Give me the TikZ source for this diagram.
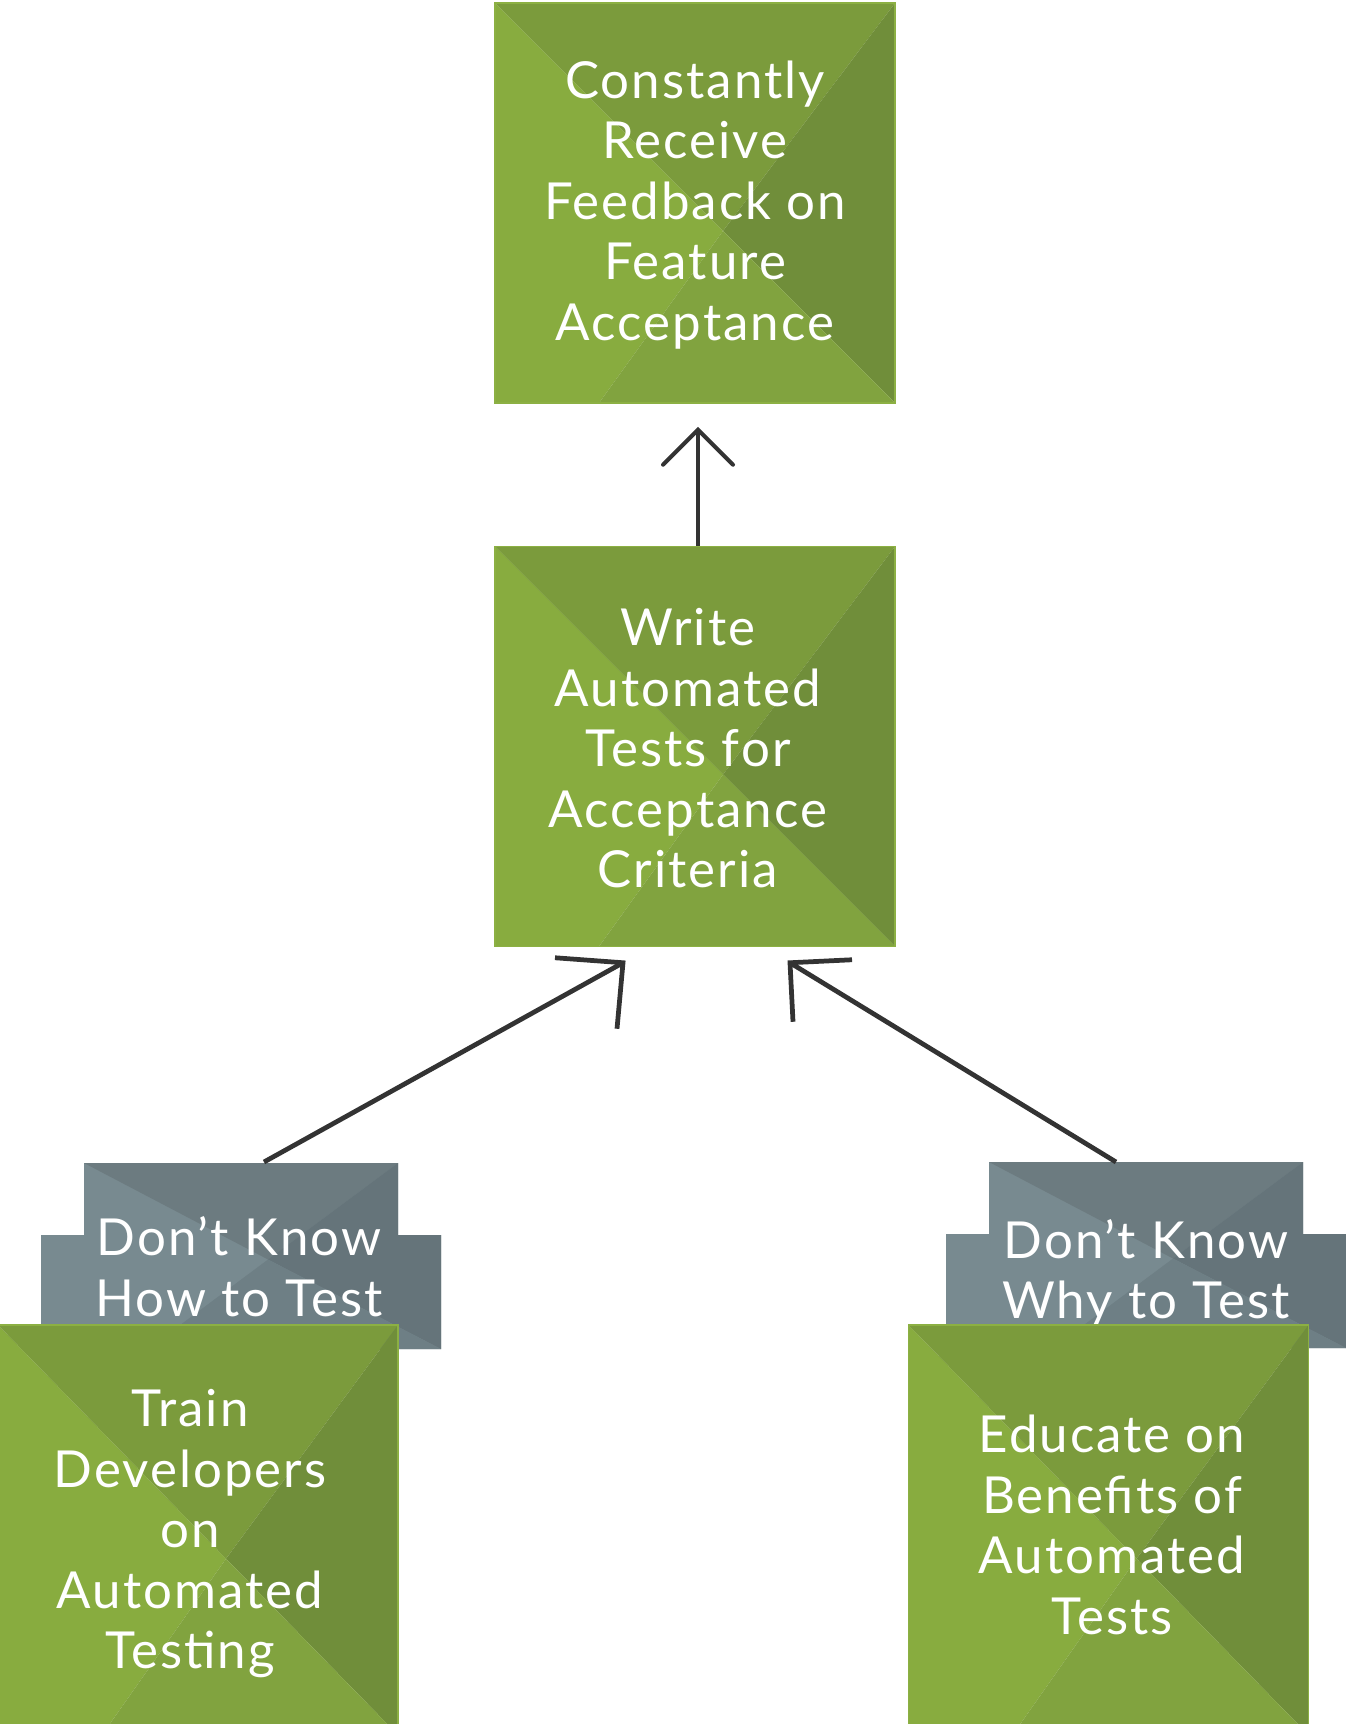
\documentclass[tikz,border=0pt]{standalone}
\usepackage{fontspec}
\setmainfont{Lato}[LetterSpace=4.0]
\usetikzlibrary{calc}
\definecolor{gL}{HTML}{88AC3F}
\definecolor{gT}{HTML}{7B9B3C}
\definecolor{gR}{HTML}{708E3A}
\definecolor{gB}{HTML}{81A33F}
\definecolor{gE}{HTML}{8CB043}
\definecolor{kL}{HTML}{788A90}
\definecolor{kT}{HTML}{6C7B80}
\definecolor{kR}{HTML}{65747A}
\definecolor{kB}{HTML}{6E7F85}
\definecolor{arr}{HTML}{333333}
\newcommand\dkshape{%
  \begin{scope}
    \clip (84,1163) -- (398,1163) -- (398,1235) -- (441,1235) -- (441,1349)
      -- (41,1349) -- (41,1235) -- (84,1235) -- cycle;
    \fill[kL] (30,1150) rectangle (460,1360);
    \fill[kT] (84,1163) -- (398,1163) -- (268,1259.5) -- cycle;
    \fill[kR] (398,1163) -- (460,1163) -- (460,1349) -- (441,1349) -- (268,1259.5) -- cycle;
    \fill[kB] (268,1259.5) -- (441,1349) -- (148,1349) -- cycle;
  \end{scope}}
\tikzset{
  txt/.style={text=white, align=center, inner sep=0pt, font=\fontsize{20.4}{24.2}\selectfont},
  greenbox/.style={rectangle, minimum width=160pt, minimum height=160pt,
    draw=gE, line width=0.6pt,
    path picture={
      \coordinate (ppa) at (path picture bounding box.north west);
      \coordinate (ppb) at (path picture bounding box.north east);
      \coordinate (ppc) at (path picture bounding box.south east);
      \coordinate (ppd) at (path picture bounding box.south west);
      \coordinate (ppp) at ($(ppa)!0.57!(ppc)$);
      \coordinate (ppq) at ($(ppd)!0.26!(ppc)$);
      \fill[gL] (ppa) -- (ppp) -- (ppq) -- (ppd) -- cycle;
      \fill[gT] (ppa) -- (ppb) -- (ppp) -- cycle;
      \fill[gR] (ppb) -- (ppc) -- (ppp) -- cycle;
      \fill[gB] (ppp) -- (ppc) -- (ppq) -- cycle;
    }},
  conn/.style={draw=arr, line width=1.9pt},
  barb/.style={draw=arr, line width=1.9pt, line join=miter},
  topbarb/.style={draw=arr, line width=1.6pt, line cap=round, line join=miter}
}
\begin{document}
\begin{tikzpicture}[x=0.4pt,y=-0.4pt]
\useasboundingbox (0,0) rectangle (1346,1724);
\clip (0,0) rectangle (1346,1724);

\node[greenbox] (top) at (695,203) {};
\node[txt] (toptxt) at (695,205) {Constantly\\Receive\\Feedback on\\Feature\\Acceptance};
\node[greenbox] (mid) at (695,746.5) {};
\node[txt] (midtxt) at (688,748.5) {Write\\Automated\\Tests for\\Acceptance\\Criteria};

\dkshape
\begin{scope}[shift={(905,-1)}]
  \dkshape
\end{scope}
\node[txt] (dk1) at (239,1266.7) {Don’t Know\\How to Test};
\node[txt] (dk2) at (1146,1273.3) {Don’t Know\\Why to Test};

\node[greenbox, overlay, minimum height=164pt] (train) at (198,1530) {};
\node[txt] (traintxt) at (190,1534) {Train\\Developers\\on\\Automated\\Testing};
\node[greenbox, overlay, minimum height=164pt] (edu) at (1108.5,1530) {};
\node[txt] (edutxt) at (1112,1525) {Educate on\\Benefits of\\Automated\\Tests};

% top arrow
\draw[conn] ($(mid.north)+(3,0)$) -- ($(top.south)+(3,26)$) coordinate (t0);
\draw[topbarb] ($(t0)+(-35,35)$) -- (t0) -- ($(t0)+(35,35)$);
% left arrow
\draw[conn] ($(dk1.center)+(25,-104.7)$) -- ($(mid.south)+(-72,15.5)$) coordinate (t1);
\draw[barb] ($(t1)+(-68,-5)$) -- (t1) -- ($(t1)+(-6,66)$);
% right arrow
\draw[conn] ($(dk2.center)+(-30,-111.3)$) -- ($(mid.south)+(95,15.5)$) coordinate (t2);
\draw[barb] ($(t2)+(62,-3)$) -- (t2) -- ($(t2)+(3,59)$);
\end{tikzpicture}
\end{document}
